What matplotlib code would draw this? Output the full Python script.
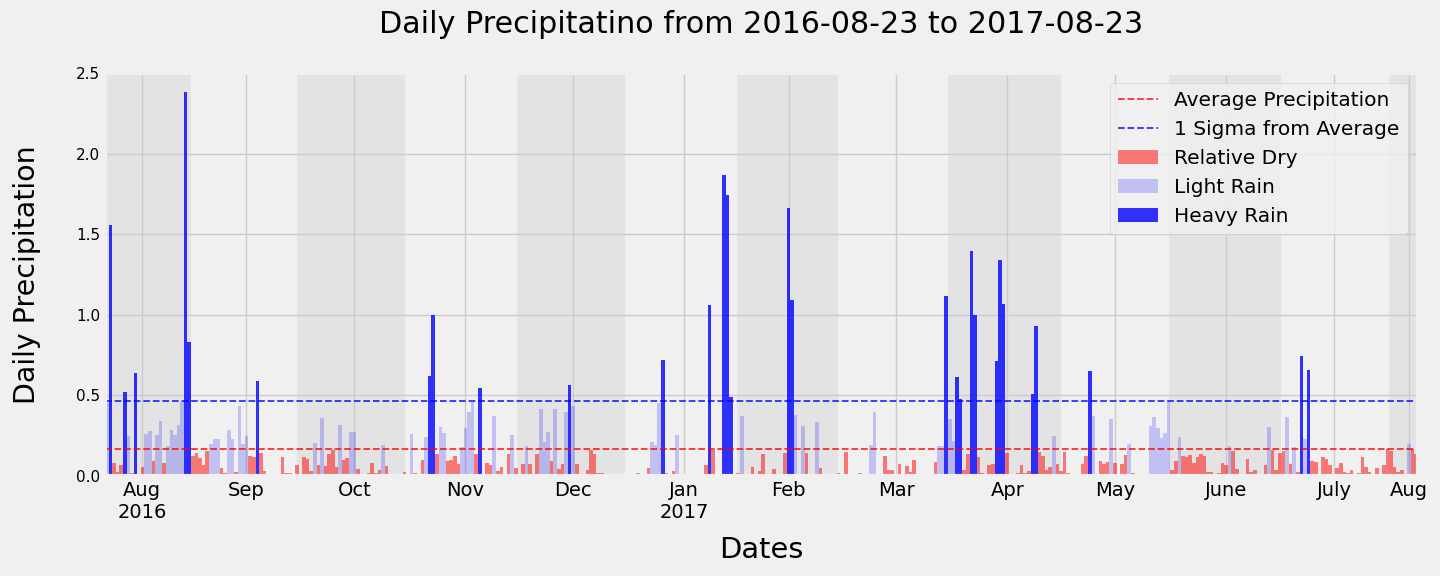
import numpy as np
import pandas as pd
import matplotlib
matplotlib.use('Agg')
import matplotlib.pyplot as plt

# daily mean precipitation, one value per day from 2016-08-23 to 2017-08-23
start_date = '2016-08-23'
end_date = '2017-08-23'
prcp = [
    0.45, 1.555, 0.079, 0.023, 0.066, 0.52, 0.246, 0.017, 0.638, 0.0,
    0.054, 0.259, 0.277, 0.091, 0.253, 0.34, 0.079, 0.184, 0.284, 0.253,
    0.315, 0.458, 2.38, 0.83, 0.122, 0.141, 0.11, 0.066, 0.153, 0.2,
    0.228, 0.228, 0.048, 0.017, 0.284, 0.228, 0.023, 0.433, 0.197, 0.246,
    0.122, 0.116, 0.588, 0.141, 0.029, 0.0, 0.0, 0.0, 0.0, 0.116,
    0.017, 0.017, 0.0, 0.066, 0.0, 0.116, 0.104, 0.029, 0.203, 0.066,
    0.358, 0.06, 0.135, 0.159, 0.054, 0.315, 0.097, 0.11, 0.271, 0.271,
    0.041, 0.0, 0.0, 0.017, 0.079, 0.017, 0.035, 0.19, 0.06, 0.0,
    0.0, 0.0, 0.0, 0.023, 0.0, 0.259, 0.017, 0.0, 0.097, 0.24,
    0.62, 1.0, 0.135, 0.302, 0.265, 0.091, 0.097, 0.122, 0.072, 0.18,
    0.296, 0.395, 0.458, 0.135, 0.545, 0.0, 0.079, 0.066, 0.37, 0.029,
    0.054, 0.0, 0.135, 0.253, 0.048, 0.0, 0.072, 0.184, 0.072, 0.0,
    0.135, 0.414, 0.209, 0.271, 0.091, 0.414, 0.041, 0.072, 0.40, 0.563,
    0.433, 0.072, 0.0, 0.0, 0.035, 0.159, 0.135, 0.017, 0.017, 0.0,
    0.0, 0.0, 0.0, 0.0, 0.0, 0.0, 0.0, 0.0, 0.017, 0.0,
    0.0, 0.048, 0.209, 0.19, 0.451, 0.718, 0.017, 0.0, 0.029, 0.253,
    0.0, 0.0, 0.0, 0.0, 0.0, 0.0, 0.0, 0.066, 1.06, 0.159,
    0.0, 0.0, 1.87, 1.745, 0.489, 0.0, 0.017, 0.37, 0.0, 0.0,
    0.054, 0.0, 0.029, 0.135, 0.0, 0.0, 0.041, 0.0, 0.0, 0.141,
    1.665, 1.093, 0.377, 0.0, 0.308, 0.141, 0.0, 0.0, 0.333, 0.048,
    0.0, 0.0, 0.0, 0.0, 0.017, 0.0, 0.147, 0.0, 0.0, 0.0,
    0.017, 0.0, 0.0, 0.19, 0.395, 0.0, 0.0, 0.122, 0.035, 0.035,
    0.0, 0.072, 0.0, 0.06, 0.023, 0.097, 0.0, 0.0, 0.0, 0.0,
    0.0, 0.085, 0.184, 0.184, 1.118, 0.352, 0.215, 0.615, 0.478, 0.035,
    0.135, 1.398, 0.998, 0.116, 0.017, 0.0, 0.066, 0.072, 0.712, 1.342,
    1.07, 0.141, 0.0, 0.0, 0.017, 0.066, 0.017, 0.029, 0.507, 0.93,
    0.147, 0.122, 0.035, 0.054, 0.246, 0.072, 0.029, 0.147, 0.017, 0.0,
    0.0, 0.0, 0.072, 0.122, 0.65, 0.37, 0.0, 0.091, 0.072, 0.085,
    0.352, 0.079, 0.0, 0.072, 0.128, 0.197, 0.017, 0.0, 0.0, 0.0,
    0.0, 0.308, 0.364, 0.296, 0.234, 0.265, 0.458, 0.035, 0.091, 0.24,
    0.122, 0.116, 0.128, 0.079, 0.116, 0.135, 0.122, 0.023, 0.023, 0.0,
    0.017, 0.079, 0.066, 0.184, 0.153, 0.041, 0.0, 0.0, 0.104, 0.023,
    0.035, 0.0, 0.0, 0.066, 0.302, 0.159, 0.035, 0.141, 0.153, 0.364,
    0.072, 0.18, 0.023, 0.743, 0.228, 0.656, 0.091, 0.085, 0.0, 0.116,
    0.104, 0.066, 0.0, 0.048, 0.079, 0.023, 0.017, 0.035, 0.0, 0.017,
    0.116, 0.054, 0.023, 0.0, 0.048, 0.0, 0.066, 0.168, 0.153, 0.054,
    0.023, 0.035, 0.0, 0.197, 0.166, 0.135,
]
avg_prcp = 0.170
sigma_prcp = 0.297
month_labels = ['Aug\n2016', 'Sep', 'Oct', 'Nov', 'Dec', 'Jan\n2017', 'Feb',
                'Mar', 'Apr', 'May', 'June', 'July', 'Aug']

dates = pd.date_range(start_date, end_date)
x = np.asarray((dates - dates[0]).days)
prcp = np.array(prcp)
upper = avg_prcp + sigma_prcp

dry = prcp <= avg_prcp
light = (prcp > avg_prcp) & (prcp <= upper)
heavy = prcp > upper

plt.style.use('fivethirtyeight')
fig = plt.figure(figsize=(14.4, 5.76), dpi=100)
ax = fig.add_axes([0.0729, 0.1736, 0.9118, 0.6997])

# shaded bands run from the middle of one month to the middle of the next
band_edges = [0, 24.0, 53.5, 83.6, 114.9, 145.0, 176.2, 204.3, 235.0,
              266.5, 296.6, 327.8, 358.0, len(x)]
tick_pos = [10.4, 39.4, 69.5, 100.45, 130.57, 161.5, 190.6, 220.6, 251.55,
            281.67, 312.6, 342.7, 363.5]
for i in range(0, len(band_edges) - 1, 2):
    ax.axvspan(band_edges[i], band_edges[i + 1], color='gray', alpha=0.11, lw=0, zorder=0)

ax.axhline(avg_prcp, color='red', ls='--', lw=1.3, alpha=0.8, label='Average Precipitation')
ax.axhline(upper, color='blue', ls='--', lw=1.3, alpha=0.8, label='1 Sigma from Average')
ax.bar(x[dry], prcp[dry], width=1, align='edge', color='red', alpha=0.5, lw=0, label='Relative Dry')
ax.bar(x[light], prcp[light], width=1, align='edge', color='blue', alpha=0.2, lw=0, label='Light Rain')
ax.bar(x[heavy], prcp[heavy], width=1, align='edge', color='blue', alpha=0.8, lw=0, label='Heavy Rain')

ax.set_xlim(0, len(x))
ax.set_ylim(0, 2.5)
ax.set_xticks(tick_pos)
ax.set_xticklabels(month_labels)
ax.set_yticks(np.arange(0, 2.51, 0.5))
ax.tick_params(axis='x', labelsize=14)
ax.tick_params(axis='y', labelsize=11)

ax.set_title('Daily Precipitatino from 2016-08-23 to 2017-08-23', fontsize=21.7, pad=29)
ax.set_ylabel('Daily Precipitation', fontsize=20.5, labelpad=25)
ax.set_xlabel('Dates', fontsize=20.8, labelpad=10)
ax.legend(loc='upper right', fontsize=14.5)

fig.savefig('out.png', dpi=100)
